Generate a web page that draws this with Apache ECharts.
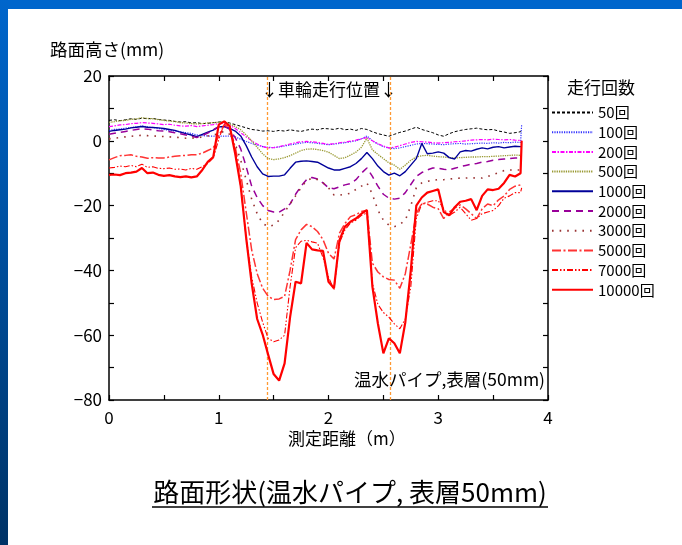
<!DOCTYPE html>
<html><head><meta charset="utf-8">
<script src="https://cdn.jsdelivr.net/npm/echarts@6/dist/echarts.min.js"></script>
<style>html,body{margin:0;padding:0;background:#fff}#c{width:682px;height:545px}</style>
</head><body><div id="c"></div>
<script>
const FONT = '"Noto Sans CJK JP", "Noto Sans", sans-serif';
const xs = [0,0.05,0.1,0.15,0.2,0.25,0.3,0.35,0.4,0.45,
 0.5,0.55,0.6,0.65,0.7,0.75,0.8,0.85,0.9,0.95,
 1.0,1.05,1.1,1.15,1.2,1.25,1.3,1.35,1.4,1.45,
 1.5,1.55,1.6,1.65,1.7,1.75,1.8,1.85,1.9,1.95,
 2.0,2.05,2.1,2.15,2.2,2.25,2.3,2.35,2.4,2.45,
 2.5,2.55,2.6,2.65,2.7,2.75,2.8,2.85,2.9,2.95,
 3.0,3.05,3.1,3.15,3.2,3.25,3.3,3.35,3.4,3.45,
 3.5,3.55,3.6,3.65,3.7,3.75,3.76];
const names = ['50回','100回','200回','500回','1000回','2000回','3000回','5000回','7000回','10000回'];
const s50 = [6.3,6.5,6.2,6.5,6.8,6.6,7.0,6.8,6.9,6.6,
 6.4,6.3,6.0,5.8,5.9,5.5,5.6,5.3,5.4,5.6,
 5.8,5.9,5.5,5.0,4.5,4.0,3.5,3.3,3.0,3.1,
 2.9,3.2,3.0,3.4,3.1,2.9,3.3,3.6,3.4,3.8,
 3.7,3.5,3.9,3.4,3.6,3.2,3.8,3.5,2.8,2.2,
 1.8,1.4,2.0,2.6,3.0,3.6,4.2,3.5,3.0,2.5,
 1.8,1.4,2.2,2.8,3.2,3.5,3.7,3.9,3.6,3.4,
 3.5,3.0,2.7,2.3,2.5,2.8,3.5];
const s100 = [3.2,3.5,3.6,3.9,4.1,4.3,4.6,4.3,4.1,3.8,
 3.5,3.2,3.0,2.8,2.5,2.3,1.8,1.6,1.5,1.4,
 1.5,1.4,1.5,1.2,0.5,-0.2,-0.8,-1.3,-1.8,-2.0,
 -2.1,-1.9,-1.6,-1.3,-1.0,-0.7,-0.5,-0.6,-0.8,-1.0,
 -1.2,-1.0,-0.8,-0.6,-0.3,0.0,0.6,1.5,0.0,-1.0,
 -1.8,-2.2,-2.4,-2.2,-1.8,-1.4,-1.0,-0.8,-0.9,-1.0,
 -1.1,-1.2,-1.0,-0.9,-0.8,-1.0,-0.9,-0.8,-0.7,-0.8,
 -0.6,-0.7,-0.5,-0.6,-0.4,-0.5,5.0];
const s200 = [4.4,4.6,4.9,5.0,5.3,5.4,5.6,5.5,5.4,5.2,
 5.0,5.1,4.8,4.6,4.5,4.7,4.4,4.6,4.8,5.0,
 5.3,5.4,4.8,3.8,2.5,1.2,0.0,-1.0,-1.8,-2.2,
 -2.1,-1.8,-1.4,-1.0,-0.6,-0.3,-0.2,-0.3,-0.5,-0.8,
 -1.1,-0.9,-0.6,-0.4,-0.1,0.2,0.6,1.0,0.0,-0.9,
 -1.6,-2.2,-2.0,-1.5,-1.0,-0.5,-0.2,-0.3,-0.4,-0.6,
 -0.7,-0.6,-0.5,-0.3,-0.2,0.0,0.2,0.3,0.4,0.3,
 0.5,0.4,0.3,0.4,0.2,0.1,0.0];
const s500 = [5.7,5.9,6.2,6.3,6.6,6.8,7.1,6.9,6.8,6.5,
 6.3,6.1,5.9,5.6,5.5,5.3,5.2,5.3,5.5,5.6,
 5.7,5.8,5.2,4.4,3.4,1.8,0.0,-2.0,-4.0,-5.5,
 -5.8,-5.6,-5.2,-4.6,-3.8,-3.0,-2.6,-2.5,-2.7,-3.0,
 -3.5,-4.5,-5.5,-5.2,-4.4,-3.5,-2.0,0.8,-2.8,-4.2,
 -5.5,-6.8,-7.5,-8.8,-7.5,-6.0,-5.0,-4.6,-4.5,-4.7,
 -4.9,-5.0,-5.2,-5.3,-5.2,-5.1,-5.0,-5.0,-4.9,-4.9,
 -4.8,-4.7,-4.6,-4.5,-4.4,-4.5,-4.6];
const s1000 = [2.9,3.2,3.4,3.6,4.0,4.2,4.4,4.2,4.1,4.0,
 3.8,3.5,3.2,2.7,2.2,1.8,1.3,2.0,2.7,3.3,
 4.3,4.4,3.8,3.0,1.5,-1.5,-5.0,-8.0,-10.2,-11.0,
 -10.9,-10.9,-10.5,-8.5,-6.6,-6.3,-6.2,-6.4,-6.6,-7.5,
 -8.4,-9.0,-9.0,-8.5,-8.0,-7.0,-5.5,-3.6,-5.5,-7.8,
 -9.5,-10.6,-10.0,-10.8,-9.5,-7.5,-5.5,-0.8,-4.0,-3.8,
 -3.4,-3.8,-5.2,-5.6,-3.4,-3.0,-3.2,-2.6,-2.2,-2.5,
 -2.0,-1.8,-2.2,-1.9,-1.7,-1.8,-1.8];
const s2000 = [2.0,2.3,2.6,2.9,3.2,3.5,3.7,3.6,3.3,3.1,
 3.0,2.8,2.5,2.2,1.8,1.4,1.0,1.6,2.4,3.4,
 4.4,4.6,3.5,1.0,-2.5,-8.0,-14.0,-17.5,-20.0,-21.5,
 -22.0,-22.0,-21.0,-19.5,-16.5,-14.0,-12.0,-11.3,-11.8,-13.0,
 -14.5,-14.8,-14.2,-13.6,-13.2,-12.0,-10.0,-8.4,-11.0,-14.0,
 -16.5,-17.7,-18.0,-17.7,-16.0,-13.5,-11.0,-9.8,-9.0,-8.4,
 -8.5,-8.8,-9.0,-8.5,-8.0,-7.6,-7.2,-7.0,-6.6,-6.4,
 -6.0,-5.8,-5.6,-5.5,-5.3,-5.3,-5.3];
const s3000 = [0.6,0.8,1.0,1.2,1.4,1.6,1.7,1.6,1.5,1.4,
 1.3,1.2,1.1,1.0,0.8,0.8,0.9,1.2,1.5,1.8,
 2.2,3.0,2.0,-1.0,-6.0,-12.0,-18.0,-22.5,-25.5,-26.5,
 -26.0,-24.5,-22.0,-19.5,-17.0,-14.5,-12.3,-11.5,-12.0,-13.0,
 -14.5,-16.7,-16.8,-16.5,-16.2,-15.0,-14.0,-13.0,-16.5,-21.4,
 -24.5,-26.0,-26.5,-25.8,-24.5,-20.0,-14.5,-13.0,-12.5,-12.2,
 -12.0,-12.0,-11.8,-11.6,-11.5,-11.5,-11.4,-11.5,-11.5,-11.0,
 -10.4,-9.8,-9.2,-9.0,-9.0,-9.0,-9.0];
const s5000 = [-5.9,-5.2,-4.6,-4.5,-4.3,-4.8,-5.0,-5.4,-5.2,-5.3,
 -5.3,-5.0,-4.8,-4.6,-4.5,-4.3,-4.3,-3.8,-3.0,-2.2,
 1.5,5.0,4.0,-2.0,-10.0,-22.0,-33.7,-41.0,-45.5,-48.0,
 -49.0,-48.8,-48.0,-40.0,-30.5,-27.5,-25.8,-26.5,-28.0,-30.5,
 -34.7,-36.5,-28.5,-25.5,-23.4,-22.8,-21.8,-21.4,-37.8,-40.5,
 -42.0,-42.8,-43.0,-45.5,-41.0,-32.0,-22.5,-19.3,-19.5,-20.5,
 -21.0,-24.0,-22.0,-20.8,-19.8,-21.0,-22.5,-24.0,-21.0,-19.5,
 -20.0,-18.2,-17.0,-15.0,-14.0,-13.6,-13.6];
const s7000 = [-8.4,-8.2,-7.8,-8.0,-7.6,-8.0,-7.2,-8.2,-8.0,-8.5,
 -8.6,-8.4,-8.8,-8.7,-9.0,-8.5,-8.8,-8.0,-7.0,-5.3,
 0.5,5.2,4.5,-3.0,-14.0,-30.0,-42.0,-50.0,-56.0,-61.0,
 -62.0,-61.5,-60.0,-45.0,-33.0,-31.0,-30.7,-31.2,-31.6,-36.0,
 -42.0,-46.0,-31.5,-27.5,-25.4,-24.5,-23.0,-22.3,-44.0,-50.5,
 -53.0,-54.4,-56.5,-58.0,-55.0,-45.0,-24.0,-19.5,-19.0,-18.5,
 -18.5,-21.0,-23.0,-22.0,-20.5,-22.5,-24.5,-24.0,-22.5,-22.0,
 -21.5,-20.0,-17.7,-17.0,-16.0,-16.0,-14.5];
const s10000 = [-10.5,-10.4,-10.6,-10.0,-9.8,-9.5,-8.4,-10.0,-9.8,-10.5,
 -10.8,-10.6,-11.0,-11.2,-11.0,-11.3,-11.0,-9.0,-6.5,-5.0,
 5.0,6.0,4.5,-4.0,-14.0,-30.0,-44.0,-55.0,-59.8,-66.0,
 -72.0,-74.0,-68.7,-54.4,-43.5,-44.0,-31.5,-33.5,-33.8,-34.0,
 -43.5,-45.5,-30.7,-26.5,-25.0,-24.0,-22.5,-21.4,-45.0,-56.4,
 -65.6,-61.0,-62.5,-65.6,-56.0,-40.0,-20.0,-17.5,-16.0,-15.5,
 -15.0,-22.0,-23.0,-20.5,-18.8,-18.5,-18.0,-21.4,-17.0,-15.0,
 -15.2,-14.8,-13.0,-10.5,-11.0,-10.0,0.0];
const wheelPos = [1.44, 2.56];

const values = [s50,s100,s200,s500,s1000,s2000,s3000,s5000,s7000,s10000];
const styles = [
  {color:'#000000', width:1, type:[3,2]},
  {color:'#3333ff', width:1.2, type:[1.2,1.2]},
  {color:'#ff00ff', width:1.2, type:[4,1.5,1.5,1.5]},
  {color:'#999933', width:1.3, type:[1.3,1]},
  {color:'#000099', width:1.4, type:'solid'},
  {color:'#990099', width:1.5, type:[7,5]},
  {color:'#993333', width:1.6, type:[1.6,6]},
  {color:'#ff3333', width:1.5, type:[9,2.5,2,2.5]},
  {color:'#ff0000', width:1.1, type:[6,2,1.5,2,1.5,2]},
  {color:'#ff0000', width:2.2, type:'solid'}
];

const series = values.map((v,i)=>({
  name: names[i], type:'line', showSymbol:false, symbol:'none', animation:false,
  lineStyle: styles[i], itemStyle:{color:styles[i].color},
  data: xs.map((x,j)=>[x, v[j]]), z: 2+i
}));
series[0].markLine = {
  silent:true, symbol:'none', animation:false,
  label:{show:false},
  lineStyle:{color:'#ff9933', type:[3,2], width:1.3},
  data: wheelPos.map(p=>({xAxis:p}))
};

const axisCommon = {
  axisLine:{show:true, onZero:false, lineStyle:{color:'#000', width:1.5}},
  axisTick:{show:true, inside:true, length:5, lineStyle:{color:'#000', width:1.2}},
  minorTick:{show:true, splitNumber:2, length:5, lineStyle:{color:'#000', width:1.2}},
  splitLine:{show:false}
};

const chart = echarts.init(document.getElementById('c'), null, {renderer:'canvas'});
chart.setOption({
  animation:false,
  backgroundColor:'#ffffff',
  textStyle:{fontFamily:FONT},
  grid:{left:109, right:134, top:76, bottom:145, containLabel:false},
  xAxis:[
    Object.assign({type:'value', min:0, max:4, interval:1, position:'bottom',
      axisLabel:{color:'#000', fontSize:17, margin:9, fontFamily:FONT}}, axisCommon),
    Object.assign({type:'value', min:0, max:4, interval:1, position:'top',
      axisLabel:{show:false}}, axisCommon)
  ],
  yAxis:[
    Object.assign({type:'value', min:-80, max:20, interval:20, position:'left',
      axisLabel:{color:'#000', fontSize:17, margin:7, fontFamily:FONT,
        formatter:v=>String(v).replace('-','\u2212')}}, axisCommon),
    Object.assign({type:'value', min:-80, max:20, interval:20, position:'right',
      axisLabel:{show:false}}, axisCommon)
  ],
  legend:{
    orient:'vertical', left:551, top:105, padding:0, itemWidth:41, itemHeight:14, itemGap:4.7,
    itemStyle:{opacity:0},
    textStyle:{fontSize:15, lineHeight:15, color:'#000', fontFamily:FONT},
    data: names
  },
  graphic:[
    {type:'rect', shape:{x:0,y:0,width:682,height:9}, style:{fill:'#0066cc'}, silent:true},
    {type:'rect', shape:{x:0,y:0,width:8,height:545}, silent:true,
      style:{fill:new echarts.graphic.LinearGradient(0,0,0,1,[{offset:0,color:'#0066cc'},{offset:1,color:'#003366'}])}},
    {type:'text', left:50, top:41, style:{text:'路面高さ(mm)', font:'17.5px '+FONT, fill:'#000'}},
    {type:'text', left:567, top:79, style:{text:'走行回数', font:'17px '+FONT, fill:'#000'}},
    {type:'text', left:261, top:81, style:{text:'↓車輪走行位置↓', font:'17px '+FONT, fill:'#000'}},
    {type:'text', right:137, top:371, style:{text:'温水パイプ,表層(50mm)', font:'17.5px '+FONT, fill:'#000'}},
    {type:'text', left:288, top:430, style:{text:'測定距離（m）', font:'17px '+FONT, fill:'#000'}},
    {type:'text', x:350, y:492, style:{text:'路面形状(温水パイプ, 表層50mm)', font:'26px '+FONT, fill:'#000', textAlign:'center', textVerticalAlign:'middle'}},
    {type:'line', shape:{x1:152,y1:507,x2:548,y2:507}, style:{stroke:'#000', lineWidth:1.5}, silent:true}
  ],
  series: series
});
</script></body></html>
